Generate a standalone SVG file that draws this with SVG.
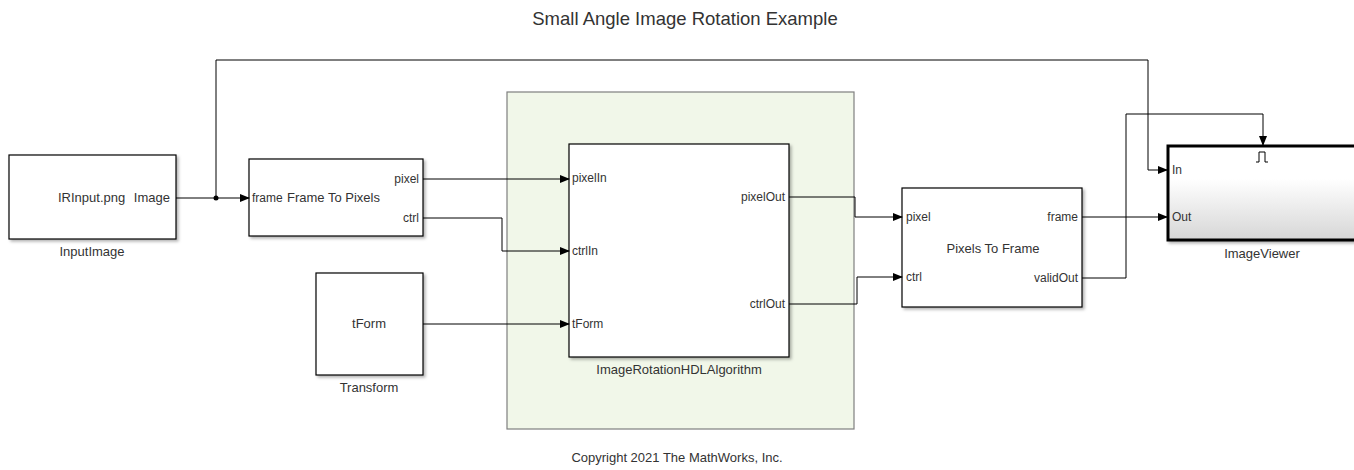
<svg xmlns="http://www.w3.org/2000/svg" width="1354" height="470" viewBox="0 0 1354 470">
<style>
text{font-family:"Liberation Sans",Arial,sans-serif;fill:#333}
.blk{fill:#fff;stroke:#000;stroke-width:1.2}
.lbl{font-size:13px;text-anchor:middle}
.port{font-size:12px}
.w{fill:none;stroke:#000;stroke-width:1}
</style>
<defs>
<marker id="ah" markerWidth="10" markerHeight="8" refX="9" refY="4" orient="auto" markerUnits="userSpaceOnUse"><path d="M0,0 L10,4 L0,8 Z" fill="#000"/></marker>
<filter id="sh" x="-5%" y="-5%" width="115%" height="115%"><feDropShadow dx="2" dy="2" stdDeviation="1.5" flood-color="#000" flood-opacity="0.3"/></filter>
<linearGradient id="gv" x1="0" y1="0" x2="0" y2="1"><stop offset="0" stop-color="#fff"/><stop offset="0.35" stop-color="#fff"/><stop offset="1" stop-color="#d6d6d6"/></linearGradient>
</defs>
<rect width="1354" height="470" fill="#fff"/>
<text x="685" y="25" font-size="18.5" text-anchor="middle">Small Angle Image Rotation Example</text>
<text x="677" y="462" font-size="13" text-anchor="middle">Copyright 2021 The MathWorks, Inc.</text>

<g id="area">
<rect x="507" y="92" width="347" height="337" fill="#f1f7e9" stroke="#7f7f7f" stroke-width="1.2"/>
</g>

<g id="InputImage">
<rect class="blk" x="9" y="155" width="167" height="84" filter="url(#sh)"/>
<text x="58" y="202" font-size="13">IRInput.png</text>
<text x="170" y="202" font-size="13" text-anchor="end">Image</text>
<text class="lbl" x="92" y="256">InputImage</text>
</g>

<g id="FrameToPixels">
<rect class="blk" x="249" y="159" width="174" height="77" filter="url(#sh)"/>
<text class="port" x="252" y="202">frame</text>
<text x="287" y="202" font-size="13">Frame To Pixels</text>
<text class="port" x="419" y="183" text-anchor="end">pixel</text>
<text class="port" x="419" y="222" text-anchor="end">ctrl</text>
</g>

<g id="Transform">
<rect class="blk" x="316" y="273" width="107" height="102" filter="url(#sh)"/>
<text class="lbl" x="369" y="328">tForm</text>
<text class="lbl" x="369" y="392">Transform</text>
</g>

<g id="ImageRotationHDLAlgorithm">
<rect class="blk" x="569" y="144" width="220" height="213" filter="url(#sh)"/>
<text class="port" x="572" y="182">pixelIn</text>
<text class="port" x="572" y="255">ctrlIn</text>
<text class="port" x="572" y="328">tForm</text>
<text class="port" x="785" y="201" text-anchor="end">pixelOut</text>
<text class="port" x="785" y="308" text-anchor="end">ctrlOut</text>
<text class="lbl" x="679" y="374">ImageRotationHDLAlgorithm</text>
</g>

<g id="PixelsToFrame">
<rect class="blk" x="902" y="188" width="180" height="119" filter="url(#sh)"/>
<text class="port" x="906" y="221">pixel</text>
<text class="port" x="906" y="281">ctrl</text>
<text class="port" x="1078" y="221" text-anchor="end">frame</text>
<text class="port" x="1078" y="282" text-anchor="end">validOut</text>
<text class="lbl" x="993" y="253">Pixels To Frame</text>
</g>

<g id="ImageViewer">
<rect x="1168" y="146" width="190" height="94" fill="url(#gv)" stroke="#000" stroke-width="3" filter="url(#sh)"/>
<path d="M1256,162 h3 v-10 h6 v10 h3" fill="none" stroke="#000" stroke-width="1"/>
<text class="port" x="1172" y="174">In</text>
<text class="port" x="1172" y="221">Out</text>
<text class="lbl" x="1262" y="258">ImageViewer</text>
</g>

<g id="connectors">
<path class="w" d="M176,198 H249" marker-end="url(#ah)"/>
<circle cx="216" cy="198" r="2.5" fill="#000"/>
<path class="w" d="M216,198 V60 H1148 V170 H1167" marker-end="url(#ah)"/>
<path class="w" d="M423,179 H569" marker-end="url(#ah)"/>
<path class="w" d="M423,218 H502 V251 H569" marker-end="url(#ah)"/>
<path class="w" d="M423,324 H569" marker-end="url(#ah)"/>
<path class="w" d="M789,197 H855 V217 H902" marker-end="url(#ah)"/>
<path class="w" d="M789,304 H857 V277 H902" marker-end="url(#ah)"/>
<path class="w" d="M1082,217 H1167" marker-end="url(#ah)"/>
<path class="w" d="M1082,278 H1126 V114 H1263 V145" marker-end="url(#ah)"/>
</g>
</svg>
